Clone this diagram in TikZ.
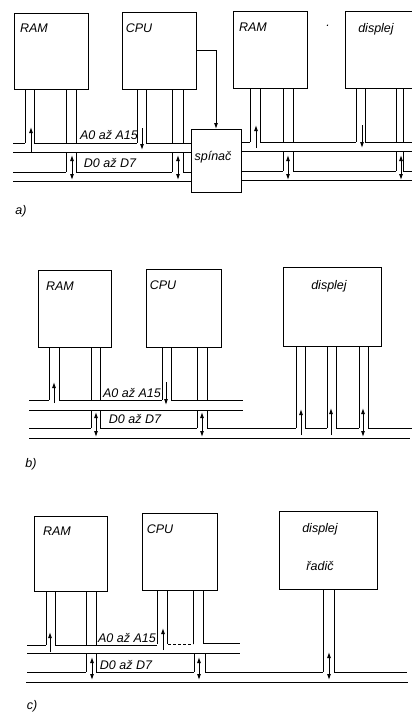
\documentclass[tikz,border=0pt]{standalone}
\usepackage{fontspec}
\setmainfont{Liberation Sans}
\usetikzlibrary{arrows.meta}
\tikzset{
    unit/.style={draw, line width=1.1pt, anchor=north west, inner sep=0pt},
    txt/.style={font=\itshape\fontsize{12.5}{14}\selectfont, inner sep=0pt},
    bus/.style={line width=1pt},
    upar/.style={line width=0.9pt, -{Latex[length=6pt,width=4pt]}},
    bothar/.style={line width=0.9pt, {Latex[length=6pt,width=4pt]}-{Latex[length=6pt,width=4pt]}}
}
\begin{document}
\begin{tikzpicture}[x=1pt, y=-1pt]
    \useasboundingbox (0,0) rectangle (412,713);
    \clip (0,0) rectangle (412,713);

    % Part a
    \node[unit, minimum width=74pt, minimum height=76pt] (ramA) at (14,13) {};
    \node[unit, minimum width=74pt, minimum height=77pt] (cpuA) at (122,12) {};
    \node[unit, minimum width=74pt, minimum height=77pt] (ramB) at (233,11) {};
    \node[unit, minimum width=85pt, minimum height=77pt] (dispA) at (345,11) {};
    \node[unit, fill=white, minimum width=50pt, minimum height=63pt] (spin) at (191,129) {};

    \node[txt] (ramAt) at (34,28) {RAM};
    \node[txt] (cpuAt) at (139,28) {CPU};
    \node[txt] (ramBt) at (253,27) {RAM};
    \node[txt] (speck) at (328,26) {.};
    \node[txt] (dispAt) at (376,29) {displej};
    \node[txt] (spinT) at (213,157) {spínač};
    \node[txt] (adrA) at (109,135) {A0 až A15};
    \node[txt] (datA) at (110,163) {D0 až D7};
    \node[txt] (capA) at (21,211) {a)};

    % stems to the address bus
    \foreach \x in {25, 34, 66, 76} {
        \draw[bus] (\x,0 |- ramA.south) -- (\x,143);
    }
    \foreach \x in {137, 146, 172, 183} {
        \draw[bus] (\x,0 |- cpuA.south) -- (\x,143);
    }
    \foreach \x in {250, 260, 283, 293} {
        \draw[bus] (\x,0 |- ramB.south) -- (\x,142);
    }
    \foreach \x in {356, 365, 396, 403} {
        \draw[bus] (\x,0 |- dispA.south) -- (\x,142);
    }
    % stems to the data bus
    \foreach \x in {66, 76, 172, 183} {
        \draw[bus] (\x,152) -- (\x,172);
    }
    \foreach \x in {283, 293, 396, 403} {
        \draw[bus] (\x,152) -- (\x,171);
    }

    % bus lines
    \draw[bus] (13,143) -- (25,143);
    \draw[bus] (34,143) -- (137,143);
    \draw[bus] (146,143) -- (spin.west |- 0,143);
    \draw[bus] (13,152) -- (spin.west |- 0,152);
    \draw[bus] (13,172) -- (66,172);
    \draw[bus] (76,172) -- (172,172);
    \draw[bus] (183,172) -- (spin.west |- 0,172);
    \draw[bus] (13,181) -- (spin.west |- 0,181);
    \draw[bus] (spin.east |- 0,142) -- (250,142);
    \draw[bus] (260,142) -- (356,142);
    \draw[bus] (365,142) -- (412,142);
    \draw[bus] (spin.east |- 0,151) -- (412,151);
    \draw[bus] (spin.east |- 0,171) -- (283,171);
    \draw[bus] (293,171) -- (396,171);
    \draw[bus] (403,171) -- (412,171);
    \draw[bus] (spin.east |- 0,180) -- (412,180);

    % control line
    \draw[upar] (cpuA.east |- 0,50) -- (216,50) -- (spin.north -| 216,0);

    % arrows
    \draw[upar] (31,152) -- (31,127);
    \draw[upar] (142,128) -- (142,150);
    \draw[upar] (256,148) -- (256,125);
    \draw[upar] (362,125) -- (362,148);
    \foreach \x in {72, 178, 288, 401} {
        \draw[bothar] (\x,155) -- (\x,180);
    }

    % Part b
    \node[unit, minimum width=73pt, minimum height=77pt] (ramC) at (38,270) {};
    \node[unit, minimum width=75pt, minimum height=78pt] (cpuB) at (146,269) {};
    \node[unit, minimum width=98pt, minimum height=79pt] (dispB) at (283,267) {};

    \node[txt] (ramCt) at (60,286) {RAM};
    \node[txt] (cpuBt) at (163,285) {CPU};
    \node[txt] (dispBt) at (329,286) {displej};
    \node[txt] (adrB) at (132,393) {A0 až A15};
    \node[txt] (datB) at (135,419) {D0 až D7};
    \node[txt] (capB) at (31,464) {b)};

    \foreach \x in {49, 59, 91, 100} {
        \draw[bus] (\x,0 |- ramC.south) -- (\x,400);
    }
    \foreach \x in {162, 171, 197, 207} {
        \draw[bus] (\x,0 |- cpuB.south) -- (\x,400);
    }
    \foreach \x in {296, 305, 327, 336, 359, 368} {
        \draw[bus] (\x,0 |- dispB.south) -- (\x,428);
    }
    \foreach \x in {91, 100, 197, 207} {
        \draw[bus] (\x,410) -- (\x,428);
    }

    \draw[bus] (29,400) -- (49,400);
    \draw[bus] (59,400) -- (162,400);
    \draw[bus] (171,400) -- (243,400);
    \draw[bus] (29,410) -- (243,410);
    \draw[bus] (29,428) -- (91,428);
    \draw[bus] (100,428) -- (197,428);
    \draw[bus] (207,428) -- (296,428);
    \draw[bus] (305,428) -- (327,428);
    \draw[bus] (336,428) -- (359,428);
    \draw[bus] (368,428) -- (412,428);
    \draw[bus] (29,438) -- (410,438);

    \draw[upar] (54,403) -- (54,382);
    \draw[upar] (166,382) -- (166,405);
    \draw[upar] (301,435) -- (301,409);
    \draw[upar] (331,435) -- (331,408);
    \foreach \x in {96, 202} {
        \draw[bothar] (\x,412) -- (\x,437);
    }
    \draw[bothar] (363,408) -- (363,437);

    % Part c
    \node[unit, minimum width=73pt, minimum height=75pt] (ramD) at (34,516) {};
    \node[unit, minimum width=75pt, minimum height=77pt] (cpuC) at (142,513) {};
    \node[unit, minimum width=98pt, minimum height=78pt] (dispC) at (279,511) {};

    \node[txt] (ramDt) at (57,531) {RAM};
    \node[txt] (cpuCt) at (160,529) {CPU};
    \node[txt] (dispCt) at (320,529) {displej};
    \node[txt] (radic) at (320,566) {řadič};
    \node[txt] (adrC) at (127,638) {A0 až A15};
    \node[txt] (datC) at (126,665) {D0 až D7};
    \node[txt] (capC) at (32,706) {c)};

    \foreach \x in {46, 55, 86, 96} {
        \draw[bus] (\x,0 |- ramD.south) -- (\x,645);
    }
    \foreach \x in {157, 167, 193, 203} {
        \draw[bus] (\x,0 |- cpuC.south) -- (\x,644);
    }
    \foreach \x in {323, 334} {
        \draw[bus] (\x,0 |- dispC.south) -- (\x,672);
    }
    \foreach \x in {86, 96, 194, 205} {
        \draw[bus] (\x,654) -- (\x,672);
    }

    \draw[bus] (27,645) -- (46,645);
    \draw[bus] (55,645) -- (157,645);
    \draw[bus, densely dashed] (168,644) -- (193,644);
    \draw[bus] (203,643) -- (240,643);
    \draw[bus] (27,653) -- (240,653);
    \draw[bus] (27,672) -- (86,672);
    \draw[bus] (96,672) -- (194,672);
    \draw[bus] (205,672) -- (323,672);
    \draw[bus] (334,672) -- (407,672);
    \draw[bus] (26,682) -- (408,682);

    \draw[upar] (50,652) -- (50,632);
    \draw[upar] (163,650) -- (163,628);
    \foreach \x in {92, 199} {
        \draw[bothar] (\x,657) -- (\x,680);
    }
    \draw[bothar] (329,652) -- (329,680);
\end{tikzpicture}
\end{document}
